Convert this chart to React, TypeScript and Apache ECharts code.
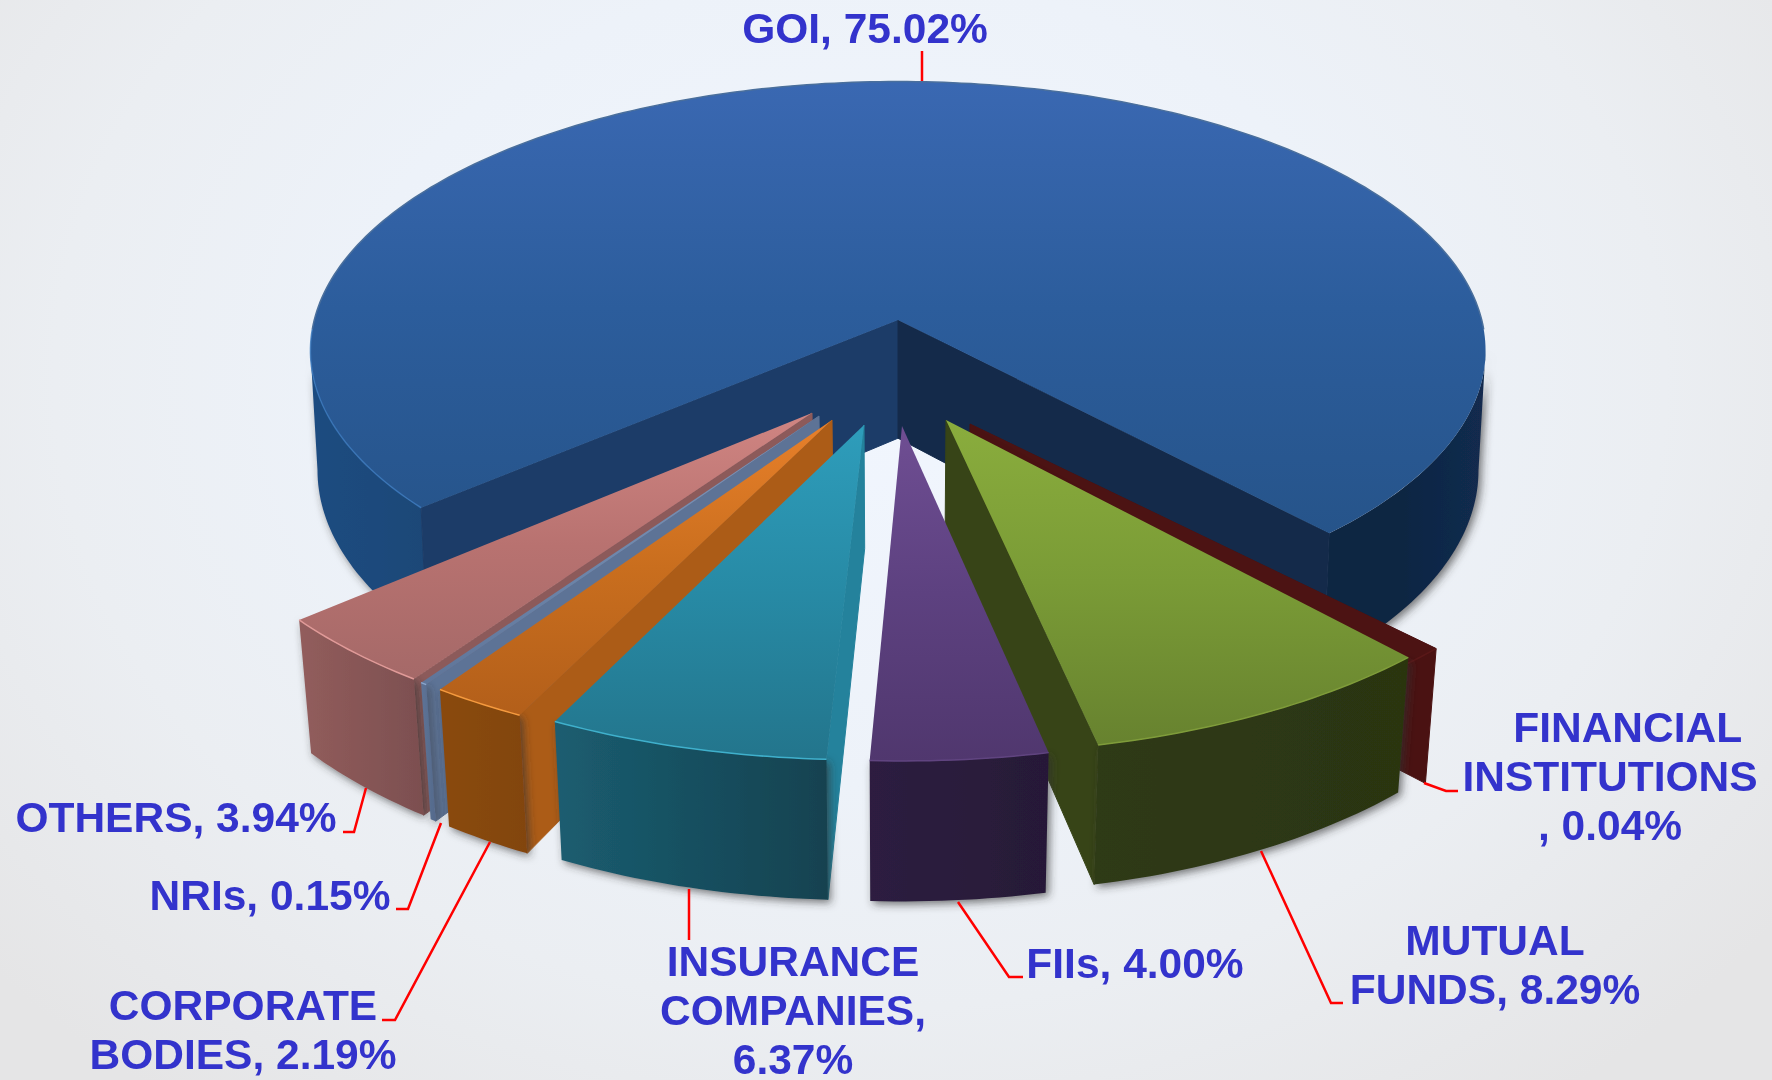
import React, { useEffect, useRef } from "react";
import * as echarts from "echarts";

// ---- data (in drawing sequence round the front of the pie) ----
const categories = ["GOI", "FINANCIAL\nINSTITUTIONS", "MUTUAL\nFUNDS", "FIIs", "INSURANCE\nCOMPANIES", "CORPORATE\nBODIES", "NRIs", "OTHERS"];
const shareValues = [75.02, 0.04, 8.29, 4.0, 6.37, 2.19, 0.15, 3.94];
const labelSeparators = [", ", "\n, ", ", ", ", ", ",\n", ", ", ", ", ", "];
const labelPrefixes = ["", "   ", "", "", "", "", "", ""];

// ---- styling and layout tables ----
const drawOrder = [0, 1, 2, 7, 6, 5, 4, 3];
const tipOffsets = [[0, 0], [72, 104], [48, 100], [4, 106], [-34, 105], [-66, 100], [-79, 96], [-86, 93]];
const sliceRadii = [1, 0.99, 1.015, 1.015, 1.015, 1.015, 1.015, 1.015];
const minSweep = [0, 4.7, 0, 0, 0, 0, 0, 0];
const sweepShift = [0, -1.6, 0, 0, 0, 0, 0, 0];
const topColors = [
  ["#3a68b2", "#2c5d9c", "#26548a"],
  ["#4c1313", "#4c1313", "#4c1313"],
  ["#8aad3d", "#7a9b36", "#67822f"],
  ["#6f4e93", "#5d4180", "#50376e"],
  ["#2e9dbb", "#278aa5", "#23758c"],
  ["#e8802a", "#c96e1e", "#b35f1a"],
  ["#7f98bd", "#6e88ad", "#5f7599"],
  ["#d08582", "#b87270", "#a56968"],
];
const radialColors = ["#1c3c68", "#4a1212", "#374417", "#3d2a55", "#24829c", "#ac5c17", "#5d7396", "#8c5a5a"];
const outerColors = [
  ["#1f4d80", "#1d4472"], ["#4a1212", "#4a1212"], ["#2f3a14", "#2b3511"], ["#2d1e40", "#271937"],
  ["#1b5d70", "#134250"], ["#8a4a10", "#82450f"], ["#5d7396", "#556a8c"], ["#925d5c", "#7c4f50"],
];
const rimColors = ["#3a78bd", "#5a1818", "#7f9c3a", "#604480", "#3fb0cc", "#f59a3e", "#8aa5cc", "#e09a98"];
const leaderPoints = [
  [[922, 51], [922, 81]],
  [[1424, 783], [1446, 791], [1458, 791]],
  [[1261, 851], [1331, 1003], [1343, 1003]],
  [[958, 902], [1009, 977], [1023, 977]],
  [[689, 889], [689, 940]],
  [[490, 842], [395, 1020], [382, 1020]],
  [[441, 823], [408, 909], [396, 909]],
  [[366, 788], [354, 832], [343, 832]],
];
const labelCentres = [[865, 28], [1610, 776], [1495, 965], [1135, 963], [793, 1010], [243, 1030], [270, 895], [176, 817]];
const startAngle = 47.4;
const frontStretch = 1.02;
const textBlue = "#3333cc";

// projection of the pie onto the screen
const D = 8.8, F = 5137, G = 2337, H = 1040, CX = 898, CY = 320, KB = 0.98, KB_BIG = 0.988;
const SIDE_ANGLE = (Math.asin(1 / D) * 180) / Math.PI;
const project = (x: number, z: number) => [CX + (F * x) / (D - z), CY + (G * z) / (D - z)];
const projectBase = (x: number, z: number) => [CX + (KB * F * x) / (D - z), CY + (G * z + H) / (D - z)];
const projectBaseBig = (x: number, z: number) => [CX + (KB_BIG * F * x) / (D - z), CY + (G * z + H) / (D - z)];
const unproject = (dx: number, dy: number) => {
  const z = (dy * D) / (G + dy);
  return [(dx * (D - z)) / F, z];
};

function sliceAngles() {
  const out: number[][] = [];
  let a = startAngle;
  for (let i = 1; i < shareValues.length; i++) {
    const s = shareValues[i] * 3.6 * frontStretch;
    const shown = Math.max(s, minSweep[i]);
    out[i] = [a + sweepShift[i], a + sweepShift[i] + shown];
    a += s;
  }
  out[0] = [a, startAngle + 360];
  return out;
}
const angles = sliceAngles();

const grad = (stops: string[], horizontal = false) => ({
  type: "linear",
  x: 0,
  y: 0,
  x2: horizontal ? 1 : 0,
  y2: horizontal ? 0 : 1,
  colorStops: stops.map((c, i) => ({ offset: i / (stops.length - 1), color: c })),
});

const SHADOW = { shadowBlur: 8, shadowColor: "rgba(50,50,50,0.65)", shadowOffsetX: 3, shadowOffsetY: 3 };

function arc(o: number[], a0: number, a1: number, R: number, fn: (x: number, z: number) => number[]) {
  const pts: number[][] = [];
  const n = Math.max(2, Math.ceil(Math.abs(a1 - a0)));
  for (let k = 0; k <= n; k++) {
    const t = ((a0 + ((a1 - a0) * k) / n) * Math.PI) / 180;
    pts.push(fn(o[0] + R * Math.cos(t), o[1] + R * Math.sin(t)));
  }
  return pts;
}

function wallPolygon(o: number[], a0: number, a1: number, R: number, stops: string[], baseFn = projectBase) {
  const top = arc(o, a0, a1, R, project);
  const base = arc(o, a0, a1, R, baseFn).reverse();
  return {
    type: "polygon",
    shape: { points: top.concat(base) },
    style: { fill: grad(stops, true), ...SHADOW },
  };
}

function radialWall(o: number[], a: number, R: number, fill: string, baseFn = projectBase) {
  const t = (a * Math.PI) / 180;
  const ex = o[0] + R * Math.cos(t), ez = o[1] + R * Math.sin(t);
  return {
    type: "polygon",
    shape: { points: [project(o[0], o[1]), project(ex, ez), baseFn(ex, ez), baseFn(o[0], o[1])] },
    style: { fill, stroke: fill, lineWidth: 1 },
  };
}

function wallVisible(o: number[], a: number, other: number, R: number) {
  const pt = (b: number) => {
    const t = (b * Math.PI) / 180;
    return project(o[0] + R * Math.cos(t), o[1] + R * Math.sin(t));
  };
  const tip = project(o[0], o[1]), p = pt(a), q = pt(other);
  const ex = p[0] - tip[0], ey = p[1] - tip[1];
  const inner = ex * (q[1] - tip[1]) - ey * (q[0] - tip[0]);
  return ex * inner < 0;
}

function renderSlice(params: any, api: any) {
  const i = api.value(0);
  const [a0, a1] = angles[i];
  const children: any[] = [];
  const o = unproject(tipOffsets[i][0], tipOffsets[i][1]);
  const R = sliceRadii[i];
  if (i === 0) {
    children.push(wallPolygon(o, a0, 180 - SIDE_ANGLE, R, ["#1f4c80", "#1e4a7c", "#1c4777"], projectBaseBig));
    children.push(wallPolygon(o, 360 + SIDE_ANGLE, a1, R, ["#0f2542", "#0f2543", "#122c4f"], projectBaseBig));
    children.push(radialWall(o, a0, R, "#1c3c68", projectBaseBig));
    children.push(radialWall(o, a1, R, "#142a4a", projectBaseBig));
    const rim = arc(o, a0, a1, R, project);
    children.push({
      type: "polygon",
      shape: { points: [project(o[0], o[1])].concat(rim) },
      style: { fill: grad(topColors[0]) },
    });
    children.push({
      type: "polyline",
      shape: { points: arc(o, a0, 178, R, project) },
      style: { fill: "none", stroke: rimColors[0], lineWidth: 1.5, opacity: 0.8 },
    });
    children.push({
      type: "polyline",
      shape: { points: arc(o, 178, 362, R, project) },
      style: { fill: "none", stroke: "#4a6f9c", lineWidth: 1.5 },
    });
  } else {
    const tip = project(o[0], o[1]);
    const rim = arc(o, a0, a1, R, project);
    if (i === 1) {
      // the very thin slice shows only its side face beyond the neighbouring slice
      children.push(radialWall(o, a0, R, radialColors[i]));
    } else {
      if (wallVisible(o, a0, a1, R)) children.push(radialWall(o, a0, R, radialColors[i]));
      if (wallVisible(o, a1, a0, R)) children.push(radialWall(o, a1, R, radialColors[i]));
      children.push(wallPolygon(o, a0, a1, R, outerColors[i]));
    }
    children.push({
      type: "polygon",
      shape: { points: [tip].concat(rim) },
      style: { fill: grad(topColors[i]) },
    });
    children.push({
      type: "polyline",
      shape: { points: rim },
      style: { fill: "none", stroke: rimColors[i], lineWidth: 1.5 },
    });
  }
  children.push({
    type: "polyline",
    shape: { points: leaderPoints[i] },
    style: { fill: "none", stroke: "#ff0000", lineWidth: 2.5 },
  });
  children.push({
    type: "text",
    x: labelCentres[i][0],
    y: labelCentres[i][1],
    style: {
      text: `${labelPrefixes[i]}${categories[i]}${labelSeparators[i]}${shareValues[i].toFixed(2)}%`,
      fill: textBlue,
      font: 'bold 42.5px "Liberation Sans", Arial, sans-serif',
      lineHeight: 49,
      align: "center",
      verticalAlign: "middle",
    },
  });
  return { type: "group", children };
}

export default function App() {
  const ref = useRef<HTMLDivElement>(null);
  useEffect(() => {
    const chart = echarts.init(ref.current!, undefined, { renderer: "svg" });
    chart.setOption({
      animation: false,
      series: [
        {
          type: "custom",
          coordinateSystem: "none",
          silent: true,
          clip: false,
          renderItem: renderSlice,
          data: drawOrder.map((i) => [i, shareValues[i]]),
        },
      ],
    });
    return () => chart.dispose();
  }, []);
  return (
    <div
      ref={ref}
      style={{
        position: "fixed",
        left: 0,
        top: 0,
        width: 1772,
        height: 1080,
        background:
          "radial-gradient(ellipse 1150px 900px at 860px 380px, #f1f6fe 0%, #edf2f9 45%, #ebeef2 70%, #e5e5e6 100%)",
      }}
    />
  );
}
